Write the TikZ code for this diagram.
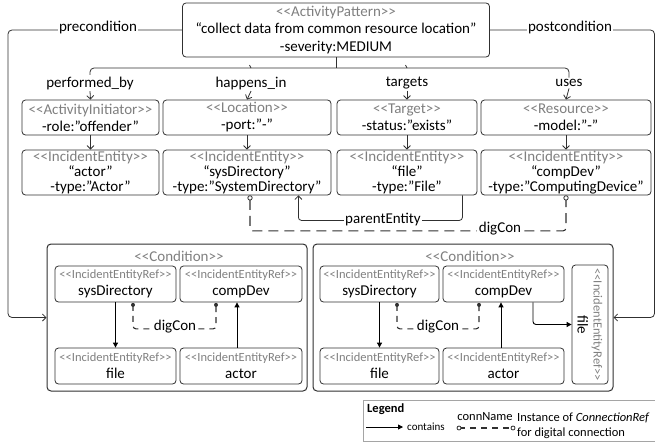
\documentclass[tikz,border=0pt]{standalone}
\usepackage{fontspec}
\setmainfont{Carlito}[Ligatures=TeXOff]
\usetikzlibrary{arrows.meta,calc}
\definecolor{linec}{HTML}{303030}
\definecolor{stc}{HTML}{7F7F7F}
\newcommand\ster[1]{\textcolor{stc}{<<#1>>}}
\newcommand\rster[1]{{\fontsize{12.5}{15}\selectfont\textcolor{stc}{<<#1>>}}}
\begin{document}
\begin{tikzpicture}[x=1pt,y=-1pt,
  every node/.style={inner sep=0pt},
  ubox/.style={draw=linec,line width=0.8pt,rounded corners=3.5pt,align=center,font=\fontsize{15}{15}\selectfont},
  rbox/.style={draw=linec,line width=0.8pt,rounded corners=3.5pt,align=center,font=\fontsize{15}{17}\selectfont},
  cbox/.style={draw=linec,line width=1pt,rounded corners=4pt},
  lbl/.style={font=\fontsize{15}{15}\selectfont,fill=white,inner sep=1.5pt},
  plain/.style={draw=linec,line width=0.8pt},
  openarr/.style={draw=linec,line width=0.8pt,-{Straight Barb[length=3.5pt,width=7pt]}},
  solidarr/.style={draw=black,line width=0.9pt,-{Triangle[length=5pt,width=5pt]}},
  digc/.style={draw=linec,line width=1.1pt,dash pattern=on 10pt off 6pt,rounded corners=3pt},
  digs/.style={draw=linec,line width=1.1pt,dash pattern=on 6pt off 5pt,rounded corners=3pt},
  opendot/.style={draw=linec,line width=0.8pt,fill=white},
]
\useasboundingbox (0,0) rectangle (655,447);

% activity pattern
\node[ubox,minimum width=307pt,minimum height=54pt,font=\fontsize{15}{17.5}\selectfont] (ap) at (336,30)
  {\ster{ActivityPattern}\\“collect data from common resource location”\\-severity:MEDIUM};

% relation labels
\node[lbl] (pb) at (90,83) {performed\_by};
\node[lbl] (hi) at (251,83) {happens\_in};
\node[lbl] (tg) at (407,83) {targets};
\node[lbl] (us) at (569,83) {uses};

% brace
\draw[plain,rounded corners=4pt] (pb.north) -- (pb.north |- 0,68) -- (us.north |- 0,68) -- (us.north);
\draw[plain,rounded corners=3pt] (ap.south) -- (ap.south |- 0,68);
\draw[plain] (hi.north |- 0,68) -- ++(-1.5,-3);
\draw[plain] (tg.north |- 0,68) -- ++(-1.5,-3);

% row 1
\node[rbox,minimum width=137pt,minimum height=35pt] (ai) at (90.5,117.5) {\ster{ActivityInitiator}\\-role:”offender”};
\node[rbox,minimum width=168pt,minimum height=35pt] (lo) at (247,117.5) {\ster{Location}\\-port:”-”};
\node[rbox,minimum width=140pt,minimum height=35pt] (ta) at (407,117.5) {\ster{Target}\\-status:”exists”};
\node[rbox,minimum width=170pt,minimum height=35pt] (re) at (566,117.5) {\ster{Resource}\\-model:”-”};

% row 2
\node[ubox,minimum width=137pt,minimum height=45pt] (ie1) at (90.5,172.5) {\ster{IncidentEntity}\\“actor”\\-type:”Actor”};
\node[ubox,minimum width=168pt,minimum height=45pt] (ie2) at (247,172.5) {\ster{IncidentEntity}\\“sysDirectory”\\-type:”SystemDirectory”};
\node[ubox,minimum width=140pt,minimum height=45pt] (ie3) at (407,172.5) {\ster{IncidentEntity}\\“file”\\-type:”File”};
\node[ubox,minimum width=170pt,minimum height=45pt] (ie4) at (566,172.5) {\ster{IncidentEntity}\\“compDev”\\-type:”ComputingDevice”};

\foreach \l/\b in {pb/ai,hi/lo,tg/ta,us/re} \draw[openarr] (\l.south) -- (\b.north);
\foreach \a/\b in {ai/ie1,lo/ie2,ta/ie3,re/ie4} \draw[openarr] (\a.south) -- (\b.north);

% parentEntity
\draw[openarr,rounded corners=3pt] ([xshift=-15pt]ie3.south east) -- ++(0,25) -| ([xshift=-33pt]ie2.south east);
\node[lbl] (pe) at (383,220) {parentEntity};

% digCon top
\coordinate (d1) at ([xshift=3pt,yshift=-2.5pt]ie2.south);
\coordinate (d2) at ([yshift=-2.5pt]ie4.south);
\draw[digc] ([yshift=-2pt]d1) -- ++(0,31) -| ([yshift=-2pt]d2);
\draw[opendot] (d1) circle (2.2pt);
\draw[opendot] (d2) circle (2.2pt);
\node[lbl] (dc) at (500,229) {digCon};

% conditions
\node[cbox,minimum width=260pt,minimum height=147pt] (c1) at (177,317.5) {};
\node[font=\fontsize{15}{15}\selectfont,text=stc] (c1t) at (179,256) {<<Condition>>};
\node[rbox,minimum width=121pt,minimum height=36pt] (c1s) at (115.5,284) {\rster{IncidentEntityRef}\\sysDirectory};
\node[rbox,minimum width=122pt,minimum height=36pt] (c1c) at (241,284) {\rster{IncidentEntityRef}\\compDev};
\node[rbox,minimum width=121pt,minimum height=36pt] (c1f) at (115.5,366) {\rster{IncidentEntityRef}\\file};
\node[rbox,minimum width=122pt,minimum height=36pt] (c1a) at (241,366) {\rster{IncidentEntityRef}\\actor};
\draw[solidarr] (c1s.south) -- (c1f.north);
\draw[solidarr] ([xshift=-4pt]c1a.north) -- ([xshift=-4pt]c1c.south);
\coordinate (e1) at ([xshift=17.5pt,yshift=-2.5pt]c1s.south);
\coordinate (e2) at ([xshift=-25pt,yshift=-2.5pt]c1c.south);
\draw[digs] (e1) -- ++(0,24) -| (e2);
\fill[linec] (e1) circle (2pt);
\fill[linec] (e2) circle (2pt);
\node[lbl] (dc1) at (175,327) {digCon};

\node[cbox,minimum width=300pt,minimum height=147pt] (c2) at (463,317.5) {};
\node[font=\fontsize{15}{15}\selectfont,text=stc] (c2t) at (470,256) {<<Condition>>};
\node[rbox,minimum width=119pt,minimum height=36pt] (c2s) at (379.5,284) {\rster{IncidentEntityRef}\\sysDirectory};
\node[rbox,minimum width=121pt,minimum height=36pt] (c2c) at (503.5,284) {\rster{IncidentEntityRef}\\compDev};
\node[rbox,minimum width=119pt,minimum height=36pt] (c2f) at (379.5,366) {\rster{IncidentEntityRef}\\file};
\node[rbox,minimum width=121pt,minimum height=36pt] (c2a) at (503.5,366) {\rster{IncidentEntityRef}\\actor};
\node[rbox,minimum width=119pt,minimum height=36pt,rotate=-90,font=\fontsize{15}{16}\selectfont] (c2v) at (590,324.5) {\rster{IncidentEntityRef}\\file};
\draw[solidarr] (c2s.south) -- (c2f.north);
\draw[solidarr] ([xshift=-2.5pt]c2a.north) -- ([xshift=-2.5pt]c2c.south);
\draw[solidarr,rounded corners=3pt] ([xshift=29.5pt]c2c.south) |- (c2v.south);
\coordinate (e3) at ([xshift=17.5pt,yshift=-2.5pt]c2s.south);
\coordinate (e4) at ([xshift=-24.5pt,yshift=-2.5pt]c2c.south);
\draw[digs] (e3) -- ++(0,24) -| (e4);
\fill[linec] (e3) circle (2pt);
\fill[linec] (e4) circle (2pt);
\node[lbl] (dc2) at (438,327) {digCon};

% pre / post condition
\draw[openarr,rounded corners=4pt] (ap.west) -- (8,30) |- (c1.west);
\node[lbl] (pre) at (98,28) {precondition};
\draw[openarr,rounded corners=4pt] (ap.east) -- (654.5,30) |- (c2.east);
\node[lbl] (post) at (570,28) {postcondition};

% legend
\node[draw=stc!70,line width=0.8pt,minimum width=292pt,minimum height=41pt] (lg) at (509,420.5) {};
\node[anchor=west,font=\fontsize{12.5}{15}\selectfont\bfseries] (lgt) at (367,409) {Legend};
\coordinate (la) at (366,427);
\coordinate (lb) at (403,427);
\draw[solidarr] (la) -- (lb);
\node[anchor=west,font=\fontsize{11}{13}\selectfont] (lc) at (407,427) {contains};
\coordinate (lx) at (459,428);
\coordinate (ly) at (513,428);
\draw[digs] (lx) -- (ly);
\draw[opendot] (lx) circle (2pt);
\draw[opendot] (ly) circle (2pt);
\node[font=\fontsize{12.5}{15}\selectfont] (ln) at (485,417) {connName};
\node[anchor=west,align=left,font=\fontsize{12.5}{15}\selectfont] (li) at (517,426) {Instance of \textit{ConnectionRef}\\for digital connection};
\end{tikzpicture}
\end{document}
